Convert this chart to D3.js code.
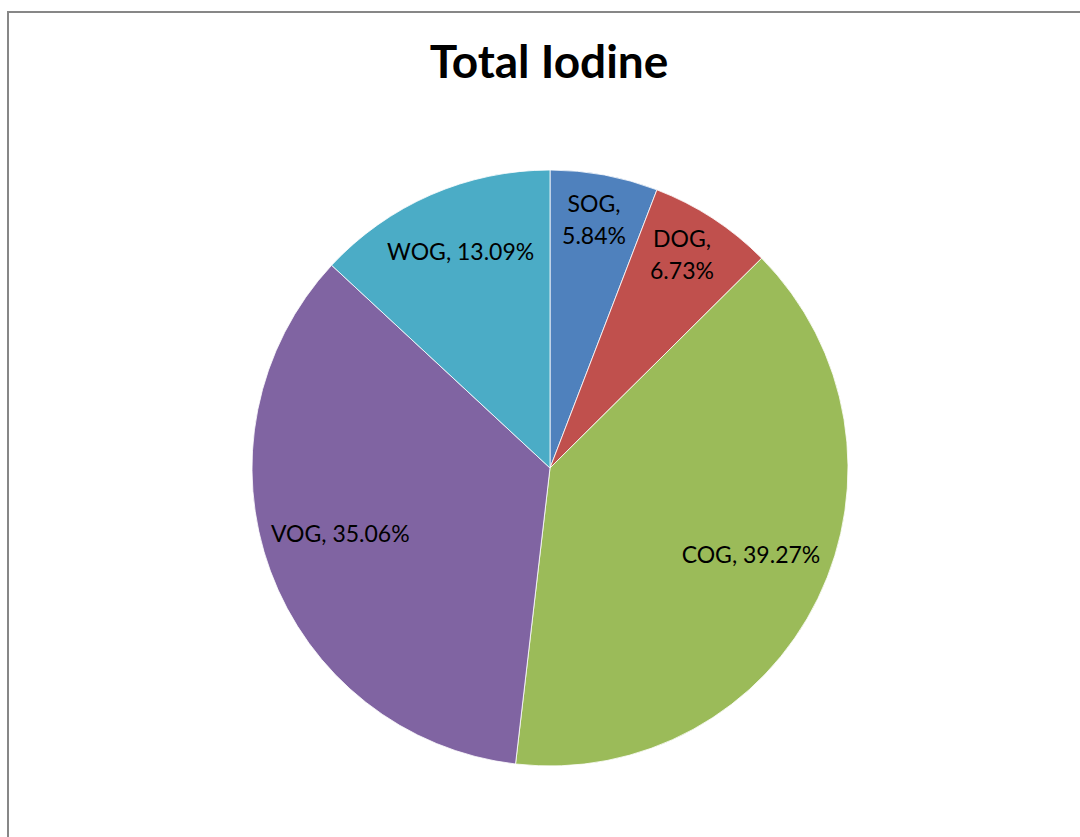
<!DOCTYPE html>
<html lang="en">
<head>
<meta charset="UTF-8">
<title>Total Iodine</title>
<script src="https://d3js.org/d3.v7.min.js"></script>
<style>
    body { margin: 0; background: #fff; }
    svg { display: block; }
</style>
</head>
<body>
<div id="chart"></div>
<script>
    // slice data, clockwise from 12 o'clock
    const categories = ["SOG", "DOG", "COG", "VOG", "WOG"];
    const values = [5.84, 6.73, 39.27, 35.06, 13.09];
    const colors = ["#4F81BD", "#C0504D", "#9BBB59", "#8064A2", "#4BACC6"];
    const title = "Total Iodine";

    const width = 1080;
    const height = 837;
    const cx = 550, cy = 468, radius = 298;

    const svg = d3.select("#chart").append("svg")
        .attr("width", width)
        .attr("height", height);

    // chart frame (cropped at right/bottom)
    svg.append("rect")
        .attr("x", 8)
        .attr("y", 12)
        .attr("width", 1200)
        .attr("height", 1000)
        .attr("fill", "#fff")
        .attr("stroke", "#878787")
        .attr("stroke-width", 2);

    svg.append("text")
        .attr("x", 549)
        .attr("y", 78)
        .attr("text-anchor", "middle")
        .style("font-family", "Lato, 'Open Sans', sans-serif")
        .style("font-weight", "bold")
        .style("font-size", "46px")
        .text(title);

    const data = categories.map((c, i) => ({ name: c, value: values[i], color: colors[i] }));

    const pie = d3.pie().sort(null).value(d => d.value);
    const arcs = pie(data);

    const arc = d3.arc().innerRadius(0).outerRadius(radius);

    const g = svg.append("g").attr("transform", `translate(${cx},${cy})`);

    g.selectAll(".slice")
        .data(arcs)
        .enter().append("path")
        .attr("class", "slice")
        .attr("d", arc)
        .attr("fill", d => d.data.color)
        .attr("stroke", "#fff")
        .attr("stroke-width", 0.8);

    // labels: narrow slices wrap onto two lines
    const labels = g.selectAll(".label")
        .data(arcs)
        .enter().append("text")
        .attr("class", "label")
        .attr("text-anchor", "middle")
        .style("font-family", "Lato, 'Open Sans', sans-serif")
        .style("font-size", "23px")
        .attr("fill", "#000")
        .attr("transform", d => {
            const span = d.endAngle - d.startAngle;
            const r = span < 0.5 ? radius * 0.81 : radius * 0.75;
            const a = (d.startAngle + d.endAngle) / 2 - Math.PI / 2;
            return `translate(${r * Math.cos(a)},${r * Math.sin(a) - 11})`;
        });

    labels.each(function(d) {
        const t = d3.select(this);
        const span = d.endAngle - d.startAngle;
        const pct = d.data.value.toFixed(2) + "%";
        if (span < 0.5) {
            t.append("tspan").attr("x", 0).attr("dy", "-0.35em").text(d.data.name + ",");
            t.append("tspan").attr("x", 0).attr("dy", "1.42em").text(pct);
        } else {
            t.append("tspan").attr("x", 0).attr("dy", "0.35em").text(d.data.name + ", " + pct);
        }
    });
</script>
</body>
</html>
